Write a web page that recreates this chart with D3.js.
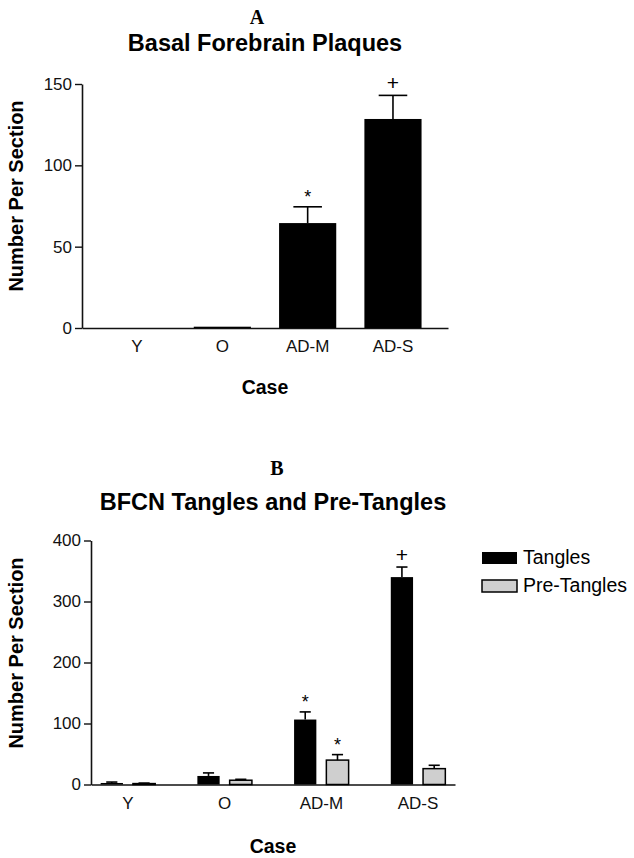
<!DOCTYPE html>
<html><head><meta charset="utf-8">
<script src="https://cdn.jsdelivr.net/npm/d3@7"></script>
<style>
html,body{margin:0;padding:0;background:#fff;}
svg{display:block;font-family:"Liberation Sans",Arial,sans-serif;}
</style></head>
<body>
<svg id="chart" width="634" height="858"></svg>
<script>
// ---------- data ----------
const cases = ["Y", "O", "AD-M", "AD-S"];
// Panel A: basal forebrain plaques
const plaqueMean = [0, 0.8, 64.5, 128.5];
const plaqueErr  = [0, 0.3, 10, 14.5];
const plaqueSig  = ["", "", "*", "+"];
const ticksA = [0, 50, 100, 150];
// Panel B: BFCN tangles and pre-tangles
const seriesNames = ["Tangles", "Pre-Tangles"];
const tangleMean = [2.5, 14, 106.5, 340];
const tangleErr  = [1.5, 5, 12.5, 16.5];
const tangleSig  = ["", "", "*", "+"];
const preMean = [1.5, 7, 40, 26];
const preErr  = [0.8, 1.5, 9, 5.5];
const preSig  = ["", "", "*", ""];
const ticksB = [0, 100, 200, 300, 400];
const seriesColors = ["#000000", "#cfcfcf"];

const svg = d3.select("#chart");

function errBar(g, cx, w, yTop, yErr) {
  g.append("line").attr("x1", cx).attr("x2", cx).attr("y1", yTop).attr("y2", yErr)
    .attr("stroke", "#000").attr("stroke-width", 1.6);
  g.append("line").attr("x1", cx - w / 2).attr("x2", cx + w / 2).attr("y1", yErr).attr("y2", yErr)
    .attr("stroke", "#000").attr("stroke-width", 1.6);
}

function sigMark(g, cx, yErr, s) {
  g.append("text").attr("x", cx).attr("y", s === "+" ? yErr - 5 : yErr - 4)
    .attr("text-anchor", "middle")
    .style("font-size", s === "+" ? "21px" : "18px").text(s);
}

function styleAxis(g) {
  g.selectAll("path.domain").attr("stroke", "#111").attr("stroke-width", 1.6);
  g.selectAll(".tick line").attr("stroke", "#111").attr("stroke-width", 1.4);
  g.selectAll(".tick text").attr("fill", "#111").style("font-size", "17px")
    .style("font-family", "'Liberation Sans', Arial, sans-serif");
}

// ---------- Panel A ----------
{
  const x = d3.scaleBand().domain(cases).range([82, 448]).paddingInner(0.33).paddingOuter(0.31);
  const y = d3.scaleLinear().domain([0, 150]).range([328, 84]);
  const g = svg.append("g");

  const yAxis = g.append("g").attr("transform", "translate(82,0)")
    .call(d3.axisLeft(y).tickValues(ticksA).tickSize(7).tickPadding(3).tickSizeOuter(0));
  styleAxis(yAxis);
  const xAxis = g.append("g").attr("transform", "translate(0,328)")
    .call(d3.axisBottom(x).tickSize(0).tickPadding(12).tickSizeOuter(0));
  styleAxis(xAxis);

  cases.forEach((c, i) => {
    const bx = x(c), bw = x.bandwidth();
    if (plaqueMean[i] > 0) {
      g.append("rect").attr("x", bx).attr("width", bw)
        .attr("y", y(plaqueMean[i])).attr("height", y(0) - y(plaqueMean[i])).attr("fill", "#000");
    }
    if (plaqueErr[i] > 1) errBar(g, bx + bw / 2, bw / 2, y(plaqueMean[i]), y(plaqueMean[i] + plaqueErr[i]));
    if (plaqueSig[i]) sigMark(g, bx + bw / 2, y(plaqueMean[i] + plaqueErr[i]), plaqueSig[i]);
  });

  g.append("text").attr("x", 257).attr("y", 24).attr("text-anchor", "middle")
    .style("font-family", "'Liberation Serif', 'Times New Roman', serif").style("font-weight", "bold")
    .style("font-size", "20px").text("A");
  g.append("text").attr("x", 265).attr("y", 51).attr("text-anchor", "middle")
    .style("font-weight", "bold").style("font-size", "23.5px").text("Basal Forebrain Plaques");
  g.append("text").attr("transform", "translate(23,196) rotate(-90)").attr("text-anchor", "middle")
    .style("font-weight", "bold").style("font-size", "20px").text("Number Per Section");
  g.append("text").attr("x", 265).attr("y", 394).attr("text-anchor", "middle")
    .style("font-weight", "bold").style("font-size", "19.5px").text("Case");
}

// ---------- Panel B ----------
{
  const x0 = d3.scaleBand().domain(cases).range([91, 455]).paddingInner(0.436).paddingOuter(0.1);
  const x1 = d3.scaleBand().domain(seriesNames).range([0, x0.bandwidth()]).paddingInner(0.31).paddingOuter(0);
  const y = d3.scaleLinear().domain([0, 400]).range([784.5, 540.5]);
  const g = svg.append("g");

  const yAxis = g.append("g").attr("transform", "translate(91,0)")
    .call(d3.axisLeft(y).tickValues(ticksB).tickSize(7).tickPadding(3).tickSizeOuter(0));
  styleAxis(yAxis);
  const xAxis = g.append("g").attr("transform", "translate(0,784.5)")
    .call(d3.axisBottom(x0).tickSize(0).tickPadding(12).tickSizeOuter(0));
  styleAxis(xAxis);

  const means = [tangleMean, preMean], errs = [tangleErr, preErr], sigs = [tangleSig, preSig];
  cases.forEach((c, i) => {
    seriesNames.forEach((s, k) => {
      const bx = x0(c) + x1(s), bw = x1.bandwidth();
      const m = means[k][i], e = errs[k][i];
      g.append("rect").attr("x", bx).attr("width", bw)
        .attr("y", y(m)).attr("height", y(0) - y(m))
        .attr("fill", seriesColors[k]).attr("stroke", "#000").attr("stroke-width", k === 1 ? 1.5 : 0);
      errBar(g, bx + bw / 2, bw / 2, y(m), y(m + e));
      if (sigs[k][i]) sigMark(g, bx + bw / 2, y(m + e), sigs[k][i]);
    });
  });

  // legend
  const lg = g.append("g");
  seriesNames.forEach((s, k) => {
    lg.append("rect").attr("x", 482).attr("y", 552 + k * 28).attr("width", 35).attr("height", 12)
      .attr("fill", seriesColors[k]).attr("stroke", "#000").attr("stroke-width", k === 1 ? 1.5 : 0);
    lg.append("text").attr("x", 523).attr("y", 564 + k * 28).style("font-size", "19.5px").text(s);
  });

  g.append("text").attr("x", 277).attr("y", 475).attr("text-anchor", "middle")
    .style("font-family", "'Liberation Serif', 'Times New Roman', serif").style("font-weight", "bold")
    .style("font-size", "20px").text("B");
  g.append("text").attr("x", 273).attr("y", 510).attr("text-anchor", "middle")
    .style("font-weight", "bold").style("font-size", "23.5px").text("BFCN Tangles and Pre-Tangles");
  g.append("text").attr("transform", "translate(23,653) rotate(-90)").attr("text-anchor", "middle")
    .style("font-weight", "bold").style("font-size", "20px").text("Number Per Section");
  g.append("text").attr("x", 273).attr("y", 853).attr("text-anchor", "middle")
    .style("font-weight", "bold").style("font-size", "19.5px").text("Case");
}
</script>
</body></html>
